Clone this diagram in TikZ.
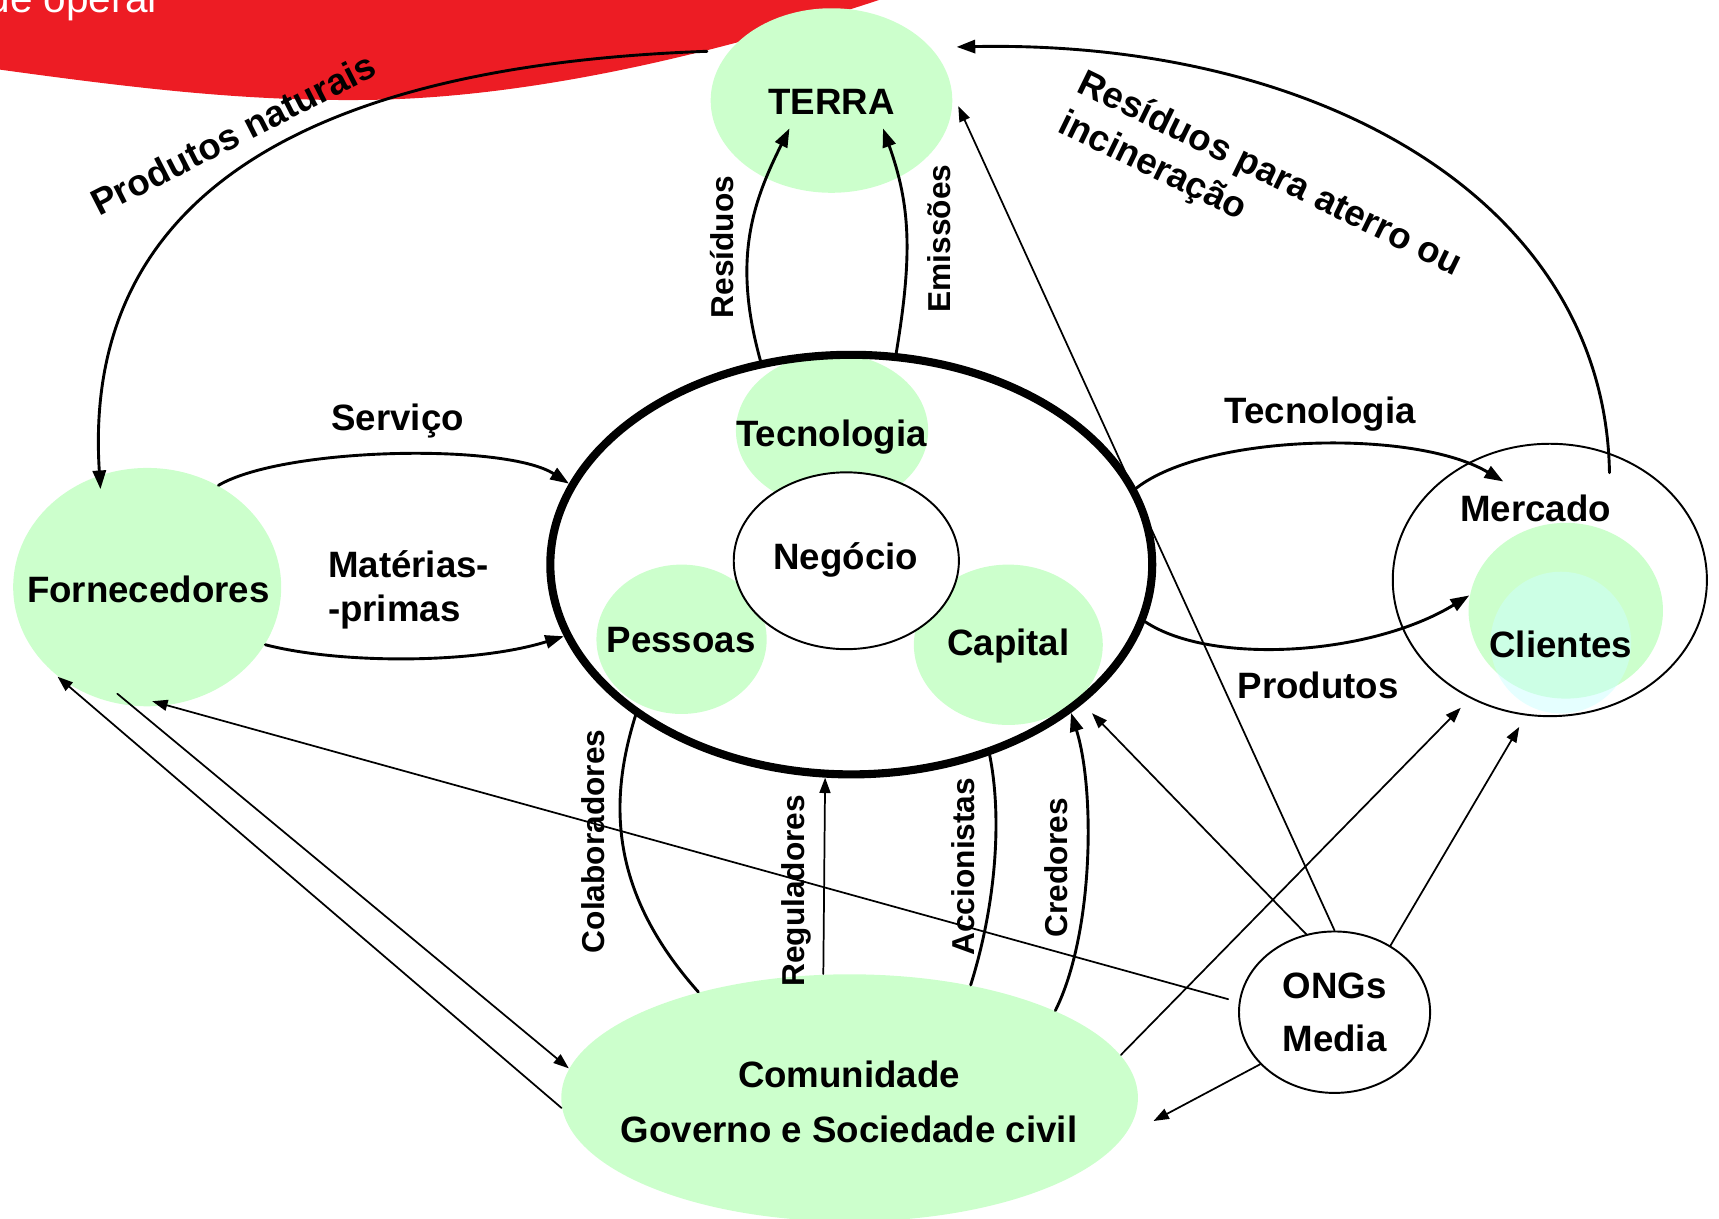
\documentclass[tikz,border=0pt]{standalone}
\usepackage{fontspec}
\setmainfont{Liberation Sans}
\usetikzlibrary{shapes.geometric,arrows.meta}

\begin{document}
\begin{tikzpicture}
[x=0.1mm,y=-0.1mm,line cap=round,
% Styles
bubble/.style={ellipse,fill=leaf,inner sep=0pt},
ring/.style={ellipse,draw,line width=0.5pt,fill=white,inner sep=0pt},
word/.style={font=\bfseries\fontsize{9.5}{11.5}\selectfont},
upword/.style={font=\bfseries\fontsize{8.2}{10}\selectfont,rotate=90},
flow/.style={line width=0.75pt,-{Triangle[length=1.7mm,width=1.2mm]}},
bond/.style={line width=0.75pt},
feed/.style={line width=0.45pt,-{Triangle[length=1.4mm,width=1mm]}}]
% Colors
\definecolor{leaf}{RGB}{204,255,204}
\definecolor{mist}{RGB}{204,255,255}
\definecolor{banner}{RGB}{237,28,36}

% The graphic
\useasboundingbox (0,0) rectangle (1565,1109);
\fill[banner] (-10,-10) -- (-10,62) .. controls (120,80) and (220,92) .. (330,91)
  .. controls (470,90) and (640,55) .. (830,-10) -- cycle;
\node[anchor=base west,text=white,inner sep=0pt,font=\fontsize{10.5}{12}\selectfont] (title) at (-12,11) {de operar};

% Circles
\node[bubble,minimum width=22mm,minimum height=16.8mm] (terra) at (757,91.5) {};
\node[bubble,minimum width=24.4mm,minimum height=21.7mm] (forn) at (134,534.5) {};
\node[ring,minimum width=28.6mm,minimum height=24.8mm] (merc) at (1411,528) {};
\node[bubble,minimum width=17.7mm,minimum height=16mm] (cli) at (1425.5,556) {};
\node[ellipse,fill=mist,fill opacity=0.5,inner sep=0pt,minimum width=12.8mm,minimum height=12.9mm] (cli2) at (1421,585) {};
\node[bubble,minimum width=52.5mm,minimum height=22.5mm] (com) at (773.5,999.5) {};
\node[ring,minimum width=17.4mm,minimum height=14.7mm] (ongs) at (1215,921.5) {};
\node[bubble,minimum width=17.5mm,minimum height=14mm] (tec) at (757.5,392) {};
\node[bubble,minimum width=15.5mm,minimum height=13.6mm] (pes) at (620.5,582) {};
\node[bubble,minimum width=17.2mm,minimum height=14.6mm] (cap) at (918,587) {};
\node[ring,minimum width=20.5mm,minimum height=16.1mm] (neg) at (770.5,510.5) {};
\node[ellipse,draw,line width=2.1pt,inner sep=0pt,minimum width=54.8mm,minimum height=38.2mm] (core) at (775,514) {};

% Names
\node[word] (terralbl) at (757,93) {TERRA};
\node[word] (teclbl) at (757,398) {Tecnologia};
\node[word] (neglbl) at (770,510) {Negócio};
\node[word] (peslbl) at (620,583) {Pessoas};
\node[word] (caplbl) at (918,588) {Capital};
\node[word] (fornlbl) at (135,537) {Fornecedores};
\node[word] (merclbl) at (1398,463) {Mercado};
\node[word] (clilbl) at (1421,587) {Clientes};
\node[word,align=center] (comlbl) at (773,1003) {Comunidade\\[2.7pt]Governo e Sociedade civil};
\node[word,align=center] (ongslbl) at (1215,922) {ONGs\\[2.2pt]Media};

% Flow labels
\node[word,rotate=27] (natlbl) at (212,122) {Produtos naturais};
\node[word,rotate=-26,align=left,anchor=north west,inner sep=0pt] (aterrolbl) at (990,60) {Resíduos para aterro ou\\incineração};
\node[upword] (reslbl) at (657,225) {Resíduos};
\node[upword] (emilbl) at (855,217) {Emissões};
\node[word] (servlbl) at (362,383) {Serviço};
\node[word,align=left,anchor=west,inner sep=0pt] (matlbl) at (298,537) {Matérias-\\-primas};
\node[word] (teclbl2) at (1202,377) {Tecnologia};
\node[word] (prodlbl) at (1200,624) {Produtos};
\node[upword] (colbl) at (540,766) {Colaboradores};
\node[upword] (reglbl) at (725,811) {Reguladores};
\node[upword] (acclbl) at (877,789) {Accionistas};
\node[upword] (credlbl) at (962,790) {Credores};

% Flows
\draw[flow,shorten <=2mm,shorten >=-1.3mm] (terra.154) .. controls +(-394,14) and +(-16,-248) .. (forn.113);
\draw[flow,shorten <=-1.8mm,shorten >=2.3mm] (merc.65) .. controls +(-4,-230) and +(353,-7) .. (terra.28);
\draw[flow] (core.114) .. controls +(-25,-90) and +(-35,70) .. (terralbl.212);
\draw[flow] (core.78) .. controls +(15,-90) and +(25,70) .. (terralbl.333);
\draw[flow] (forn.55) .. controls +(60,-35) and +(-57,-37) .. (core.164);
\draw[flow] (forn.334) .. controls +(70,18) and +(-80,25) .. (core.194);
\draw[flow] (core.15) .. controls +(64,-50) and +(-80,-48) .. (merclbl.140);
\draw[flow] (core.349) .. controls +(60,40) and +(-90,55) .. (cli.171);
\draw[bond] (core.215) .. controls +(-25,80) and +(-80,-90) .. (com.145);
\draw[bond] (core.306) .. controls +(12,60) and +(22,-70) .. (com.43);
\draw[flow] (com.23) .. controls +(35,-70) and +(22,70) .. (core.326);

% Stakeholder links
\draw[feed] (com.102) -- (core.263);
\draw[feed,shorten >=1.2mm] (ongs.90) -- (terra.3);
\draw[feed,shorten >=1.2mm] (ongs.110) -- (core.329);
\draw[feed,shorten >=1.2mm] (ongs.50) -- (merc.260);
\draw[feed,shorten <=1mm,shorten >=-1.5mm] (ongs.174) -- (forn.280);
\draw[feed,shorten >=3mm] (ongs.215) -- (com.352);
\draw[feed,shorten >=1.2mm] (com.9) -- (merc.236);
\draw[feed,shorten <=-1.8mm] (forn.263) -- (com.174);
\draw[feed] (com.182) -- (forn.225);
\end{tikzpicture}
\end{document}
